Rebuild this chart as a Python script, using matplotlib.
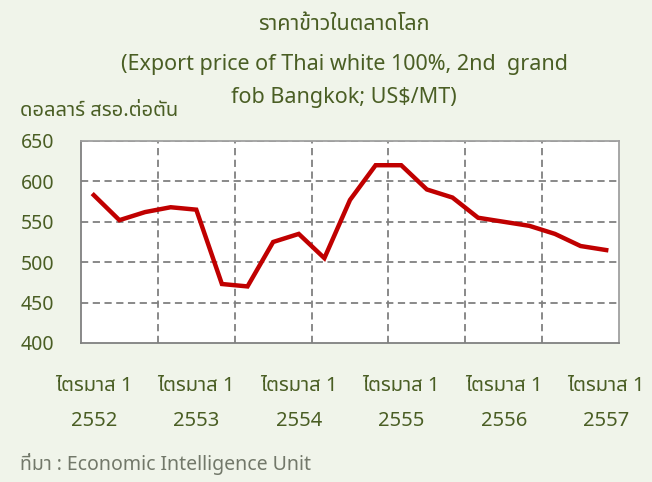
import matplotlib
matplotlib.use('Agg')
import matplotlib.pyplot as plt

# ราคาข้าวรายไตรมาส (ไตรมาส 1 2552 - ไตรมาส 1 2557)
quarters = list(range(21))
prices = [583, 552, 562, 568, 565, 473, 470, 525, 535, 505, 577,
          620, 620, 590, 580, 555, 550, 545, 535, 520, 515]
tick_pos = [0, 4, 8, 12, 16, 20]
tick_labels = ['ไตรมาส 1\n2552', 'ไตรมาส 1\n2553', 'ไตรมาส 1\n2554',
               'ไตรมาส 1\n2555', 'ไตรมาส 1\n2556', 'ไตรมาส 1\n2557']
yticks = [400, 450, 500, 550, 600, 650]

plt.rcParams['font.family'] = ['Noto Sans', 'Noto Sans Thai', 'DejaVu Sans']

green = '#4A5E24'
bg = '#F0F4EA'

fig = plt.figure(figsize=(6.52, 4.82), dpi=100, facecolor=bg)
ax = fig.add_axes([0.1242, 0.2884, 0.8252, 0.4191])
ax.set_facecolor('white')

ax.plot(quarters, prices, color='#C00000', lw=3.2, solid_joinstyle='miter')
ax.set_xlim(-0.5, 20.5)
ax.set_ylim(400, 650)

ax.set_yticks(yticks)
ax.set_yticklabels([str(v) for v in yticks], color=green, fontsize=14)
ax.set_xticks(tick_pos)
ax.set_xticklabels(tick_labels, color=green, fontsize=14.5, linespacing=1.95)
ax.tick_params(length=0)
ax.tick_params(axis='y', pad=19)
ax.tick_params(axis='x', pad=24)

# เส้นกริด
for x in [2.5, 5.5, 8.5, 11.5, 14.5, 17.5]:
    ax.axvline(x, color='#808080', lw=1.3, ls=(0, (4, 2.5)), zorder=0)
for y in [450, 500, 550, 600, 650]:
    ax.axhline(y, color='#808080', lw=1.3, ls=(0, (4, 2.5)), zorder=0)
for s in ax.spines.values():
    s.set_color('#A0A0A0')
    s.set_linewidth(1.3)
ax.spines['left'].set_color('#808080')
ax.spines['bottom'].set_color('#808080')

fig.text(0.528, 0.950, 'ราคาข้าวในตลาดโลก', ha='center', va='center', color=green, fontsize=15.5)
fig.text(0.528, 0.866, '(Export price of Thai white 100%, 2nd  grand', ha='center', va='center', color=green, fontsize=15.5)
fig.text(0.528, 0.797, 'fob Bangkok; US$/MT)', ha='center', va='center', color=green, fontsize=15.5)
fig.text(0.031, 0.770, 'ดอลลาร์ สรอ.ต่อตัน', ha='left', va='center', color=green, fontsize=14.5)
fig.text(0.031, 0.037, 'ที่มา : Economic Intelligence Unit', ha='left', va='center', color='#72786A', fontsize=14)

fig.savefig('out.png', dpi=100, facecolor=bg)
